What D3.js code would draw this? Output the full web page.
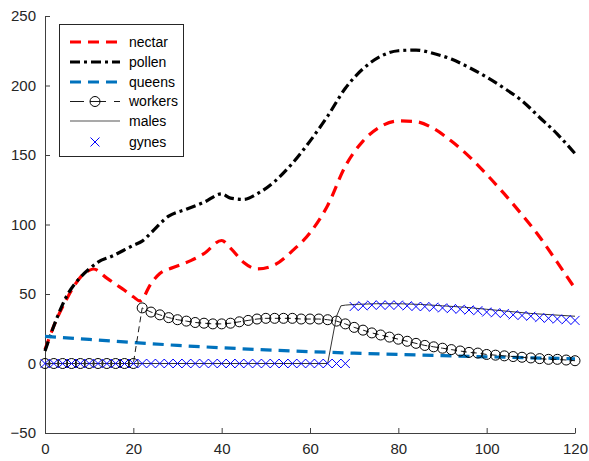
<!DOCTYPE html>
<html><head><meta charset="utf-8">
<script src="https://cdn.jsdelivr.net/npm/d3@7"></script>
<style>body{margin:0;background:#fff}svg{display:block;font-family:"Liberation Sans",Arial,sans-serif}</style>
</head><body><svg id="c" width="589" height="461"></svg>
<script>
// ---- data ----
const nectarT = [0,2,5,8,10,11,14,16,18,20,21.5,24,26,29,33,36,40,42,45,48,52,56,60,64,68,72,76,80,84,88,92,96,100,104,108,112,116,120];
const nectarV = [10,27,47,62,67,68,61.4,57,52.7,48,45,57.5,64.7,69,74,79,88.5,83,72.7,68,71,81,94,113.7,142,160,170.5,174.5,174,169,160,149,136,122,107,91,72.7,54];
const pollenT = [0,2,5,8,10,12,15,20,22,24,28,32,36,40,42,45,48,52,56,60,64,68,72,76,80,84,88,92,96,100,104,108,112,116,120];
const pollenV = [9,27,49,62,68,73,77,85,88,94,106,111,116,122,119,118,122,131,144,160,178,198,212,221,225,225.5,223,219,213,206,198,189,177,165,151];
const queensT = [0,10,20,30,40,50,60,70,80,90,100,110,120];
const queensV = [19.5,17.3,15.1,13,11.3,9.8,8.5,7.4,6.5,5.6,4.8,4.1,3.4];
const workersT = [0,2,4,6,8,10,12,14,16,18,20,22,24,26,28,30,32,34,36,38,40,42,44,46,48,50,52,54,56,58,60,62,64,66,68,70,72,74,76,78,80,82,84,86,88,90,92,94,96,98,100,102,104,106,108,110,112,114,116,118,120];
const workersV = [0,0,0,0,0,0,0,0,0,0,0,40,37,35,33,31.5,30.5,29.5,29,28.5,28.5,29,30,31,32,32.5,32.5,32.5,32.5,32,32,32,31.5,30.5,28.5,26,24,22,20.5,19,17.5,16,14.5,13,12,11,10,9,8,7.5,6.5,6,5.5,5,4.5,4,3.5,3,3,2.5,2];
const malesT = [0,64,66,67,68,70,75,80,85,90,95,100,105,110,115,120];
const malesV = [0,0,34,41.5,42,42.5,43,43,42.5,41.5,40.5,39,37.5,36,35,34];
const gynesT = [0,2,4,6,8,10,12,14,16,18,20,22,24,26,28,30,32,34,36,38,40,42,44,46,48,50,52,54,56,58,60,62,64,66,68,70,72,74,76,78,80,82,84,86,88,90,92,94,96,98,100,102,104,106,108,110,112,114,116,118,120];
const gynesV = [0,0,0,0,0,0,0,0,0,0,0,0,0,0,0,0,0,0,0,0,0,0,0,0,0,0,0,0,0,0,0,0,0,0,0,41,41.5,42,42,42,42,41.5,41,41,40.5,40,39.5,39,38.5,38,37,36.5,36,35,34.5,34,33,32.5,32,31.5,31];
const xTicks = [0,20,40,60,80,100,120];
const yTicks = [-50,0,50,100,150,200,250];
const legendLabels = ["nectar","pollen","queens","workers","males","gynes"];

// ---- drawing ----
const svg = d3.select("#c");
const x = d3.scaleLinear().domain([0,120]).range([45,575]);
const y = d3.scaleLinear().domain([-50,250]).range([433,16]);
const axCol = "#404040";

const xa = svg.append("g").attr("transform","translate(0,433)")
  .call(d3.axisBottom(x).tickValues(xTicks).tickSizeInner(-5).tickSizeOuter(0).tickPadding(10));
const ya = svg.append("g").attr("transform","translate(45,0)")
  .call(d3.axisLeft(y).tickValues(yTicks).tickSizeInner(-5).tickSizeOuter(0).tickPadding(9));
[xa,ya].forEach(a=>{
  a.selectAll("path,line").attr("stroke",axCol).attr("stroke-width",1);
  a.selectAll("text").attr("fill","#262626").style("font-size","15px").style("font-family","'Liberation Sans',Arial,sans-serif");
});

const zip = (T,V)=>T.map((t,i)=>[t,V[i]]);
const line = d3.line().x(d=>x(d[0])).y(d=>y(d[1]));
const smooth = d3.line().x(d=>x(d[0])).y(d=>y(d[1])).curve(d3.curveMonotoneX);

svg.append("path").attr("d",smooth(zip(nectarT,nectarV))).attr("fill","none")
  .attr("stroke","#ff0000").attr("stroke-width",3.2).attr("stroke-dasharray","11,7");
svg.append("path").attr("d",smooth(zip(pollenT,pollenV))).attr("fill","none")
  .attr("stroke","#000").attr("stroke-width",3.2).attr("stroke-dasharray","10,4,3,4");
svg.append("path").attr("d",line(zip(queensT,queensV))).attr("fill","none")
  .attr("stroke","#0072bd").attr("stroke-width",3.2).attr("stroke-dasharray","11,7");
const wk = zip(workersT,workersV);
svg.append("path").attr("d",line(wk)).attr("fill","none")
  .attr("stroke","#000").attr("stroke-width",0.9).attr("stroke-dasharray","6,4");
svg.append("g").selectAll("circle").data(wk).join("circle")
  .attr("cx",d=>x(d[0])).attr("cy",d=>y(d[1])).attr("r",5)
  .attr("fill","none").attr("stroke","#000").attr("stroke-width",1);
svg.append("path").attr("d",line(zip(malesT,malesV))).attr("fill","none")
  .attr("stroke","#333").attr("stroke-width",1);
const cross = (g,cx,cy,s)=>g.append("path").attr("d",`M${cx-s},${cy-s}L${cx+s},${cy+s}M${cx-s},${cy+s}L${cx+s},${cy-s}`)
  .attr("stroke","#0000ff").attr("stroke-width",1).attr("fill","none");
const gg = svg.append("g");
zip(gynesT,gynesV).forEach(d=>cross(gg,x(d[0]),y(d[1]),4.5));

// legend
const lg = svg.append("g");
lg.append("rect").attr("x",59.5).attr("y",24.5).attr("width",124).attr("height",132)
  .attr("fill","#fff").attr("stroke","#262626").attr("stroke-width",1);
const rows = [42,62,82,101.5,121,142];
const lx0 = 70, lx1 = 120, tx = 129;
legendLabels.forEach((lab,i)=>{
  const yy = rows[i];
  lg.append("text").attr("x",tx).attr("y",yy).attr("dy","0.35em").text(lab)
    .attr("fill","#000").style("font-size","14px");
});
lg.append("line").attr("x1",lx0).attr("x2",lx1).attr("y1",rows[0]).attr("y2",rows[0])
  .attr("stroke","#ff0000").attr("stroke-width",3.2).attr("stroke-dasharray","11,7");
lg.append("line").attr("x1",lx0).attr("x2",lx1).attr("y1",rows[1]).attr("y2",rows[1])
  .attr("stroke","#000").attr("stroke-width",3.2).attr("stroke-dasharray","10,4,3,4");
lg.append("line").attr("x1",lx0).attr("x2",lx1).attr("y1",rows[2]).attr("y2",rows[2])
  .attr("stroke","#0072bd").attr("stroke-width",3.2).attr("stroke-dasharray","11,7");
lg.append("line").attr("x1",lx0).attr("x2",lx1).attr("y1",rows[3]).attr("y2",rows[3])
  .attr("stroke","#000").attr("stroke-width",0.9).attr("stroke-dasharray","14,8");
lg.append("circle").attr("cx",(lx0+lx1)/2).attr("cy",rows[3]).attr("r",5)
  .attr("fill","#fff").attr("stroke","#000").attr("stroke-width",1);
lg.append("line").attr("x1",(lx0+lx1)/2-5).attr("x2",(lx0+lx1)/2+5).attr("y1",rows[3]).attr("y2",rows[3])
  .attr("stroke","#000").attr("stroke-width",0.9);
lg.append("line").attr("x1",lx0).attr("x2",lx1).attr("y1",rows[4]).attr("y2",rows[4])
  .attr("stroke","#555").attr("stroke-width",1.2);
cross(lg,(lx0+lx1)/2,rows[5],4.5);
</script></body></html>
